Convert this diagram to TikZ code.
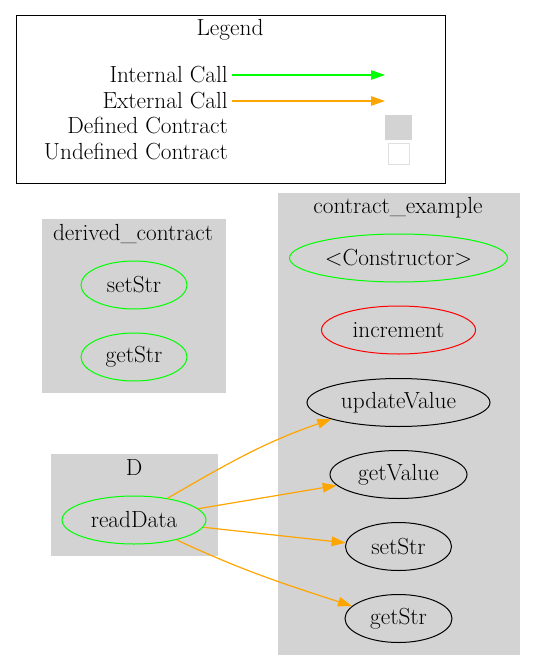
\documentclass[tikz,border=0pt]{standalone}
\usepackage{fontspec}
\usetikzlibrary{shapes.geometric,arrows.meta}
\definecolor{lgray}{HTML}{D3D3D3}
\definecolor{gvgreen}{HTML}{00FF00}
\definecolor{gvorange}{HTML}{FFA500}
\definecolor{gvred}{HTML}{FF0000}
\begin{document}
\begin{tikzpicture}[x=1pt,y=1pt,
  font=\fontsize{23.3}{27}\selectfont,
  fn/.style={ellipse, draw, line width=1pt, inner sep=0pt, minimum height=48pt},
  lbl/.style={inner sep=0pt},
  ext/.style={draw=gvorange, line width=1.2pt, -{Triangle[length=14pt,width=9.5pt,fill=gvorange]}},
  intc/.style={draw=gvgreen, line width=1.2pt, -{Triangle[length=14pt,width=9.5pt,fill=gvgreen]}},
  clusterbox/.style={fill=lgray, draw=lgray}]
\useasboundingbox (0,0) rectangle (534,-669);

% Legend
\draw[line width=1pt, black] (16,-16) rectangle (445,-183);
\node[lbl] (legendtitle) at (230,-30) {Legend};
\node[lbl, anchor=east] (lint) at (228,-75) {Internal Call};
\node[lbl, anchor=east] (lext) at (228,-101) {External Call};
\node[lbl, anchor=east] (ldef) at (228,-126) {Defined Contract};
\node[lbl, anchor=east] (lund) at (228,-152) {Undefined Contract};
\coordinate (lintend) at (385,-75);
\coordinate (lextend) at (385,-101);
\draw[intc, shorten <=4pt] (lint.east) -- (lintend);
\draw[ext, shorten <=4pt] (lext.east) -- (lextend);
\node[fill=lgray, draw=lgray, minimum width=26pt, minimum height=24pt, inner sep=0pt] (sqdef) at (398.5,-127) {};
\node[fill=white, draw=lgray!70, line width=1pt, minimum width=21pt, minimum height=21pt, inner sep=0pt] (sqund) at (398.5,-153.5) {};

% Clusters
\draw[clusterbox] (42,-219) rectangle (225,-392);
\node[lbl] (cderived) at (133,-234) {derived\_contract};
\draw[clusterbox] (51,-454) rectangle (217,-555);
\node[lbl] (cD) at (134,-468) {D};
\draw[clusterbox] (278,-193) rectangle (519,-654);
\node[lbl] (cexample) at (398,-208) {contract\_example};

% Function nodes
\node[fn, draw=gvgreen, minimum width=106pt] (dset) at (134,-285) {setStr};
\node[fn, draw=gvgreen, minimum width=106pt] (dget) at (134,-357) {getStr};
\node[fn, draw=gvgreen, minimum width=144pt] (rd) at (134,-520) {readData};
\node[fn, draw=gvgreen, minimum width=218pt] (ctor) at (398.5,-258) {<Constructor>};
\node[fn, draw=gvred, minimum width=154pt] (inc) at (398.5,-330) {increment};
\node[fn, draw=black, minimum width=183pt] (uv) at (398.5,-402.5) {updateValue};
\node[fn, draw=black, minimum width=137pt] (gv) at (398.5,-474.5) {getValue};
\node[fn, draw=black, minimum width=106pt] (ss) at (398.5,-546.5) {setStr};
\node[fn, draw=black, minimum width=107pt] (gs) at (398.5,-618.5) {getStr};

% Edges
\draw[ext] (rd.33) to[out=30,in=199] (uv.194);
\draw[ext] (rd.10) -- (gv.190);
\draw[ext] (rd.-6) -- (ss.176);
\draw[ext] (rd.-25) to[out=-25,in=162] (gs.165);
\end{tikzpicture}
\end{document}
